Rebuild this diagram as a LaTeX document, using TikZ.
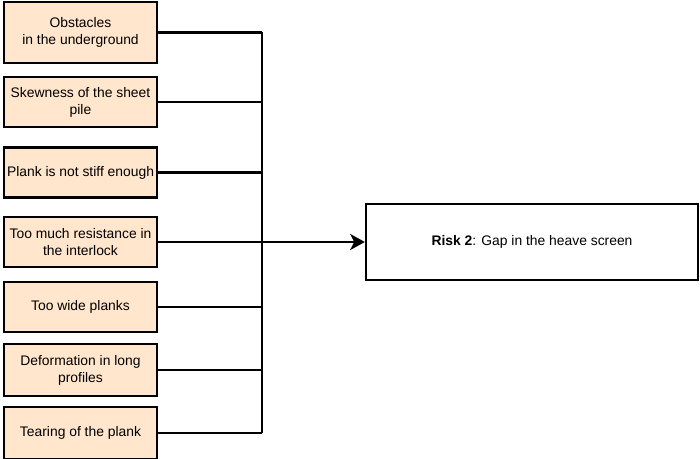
\documentclass[tikz,border=0pt]{standalone}
\usepackage{fontspec}
\setmainfont{Liberation Sans}
\usepackage{tikz}
\usetikzlibrary{arrows.meta}

\definecolor{peach}{HTML}{FFE6CC}

\begin{document}
\begin{tikzpicture}[x=0.75pt,y=-0.75pt,>={Stealth[length=11pt,width=12pt,inset=3pt]},line width=1.7pt,
        cause/.style={draw, fill=peach, align=center, minimum width=114.75pt, inner sep=1pt,
                      minimum height=37.5pt, font=\fontsize{10.4pt}{12.8pt}\selectfont},
        risk/.style={draw, align=center, minimum width=249pt, minimum height=57pt,
                     font=\fontsize{10.4pt}{12.8pt}\selectfont}]
        \useasboundingbox (0,0) rectangle (700,459);

        \node[cause, minimum height=45.75pt] (c1) at (80.5,32.5) {Obstacles\\in the underground};
        \node[cause] (c2) at (80.5,102) {Skewness of the sheet\\pile};
        \node[cause] (c3) at (80.5,172.5) {Plank is not stiff enough};
        \node[cause] (c4) at (80.5,242) {Too much resistance in\\the interlock};
        \node[cause] (c5) at (80.5,307) {Too wide planks};
        \node[cause, minimum height=39pt] (c6) at (80.5,370) {Deformation in long\\profiles};
        \node[cause, minimum height=39pt] (c7) at (80.5,433) {Tearing of the plank};

        \node[risk] (r2) at (532,242) {\textbf{Risk 2}: Gap in the heave screen};

        \coordinate (bus) at (262,0);

        \foreach \c in {c1,c2,c3,c5,c6,c7}
            \draw (\c.east) -- (\c.east -| bus);
        \draw (bus |- c1.east) -- (bus |- c7.east);

        \draw[->] (c4) -- (r2);
      \end{tikzpicture}
\end{document}
